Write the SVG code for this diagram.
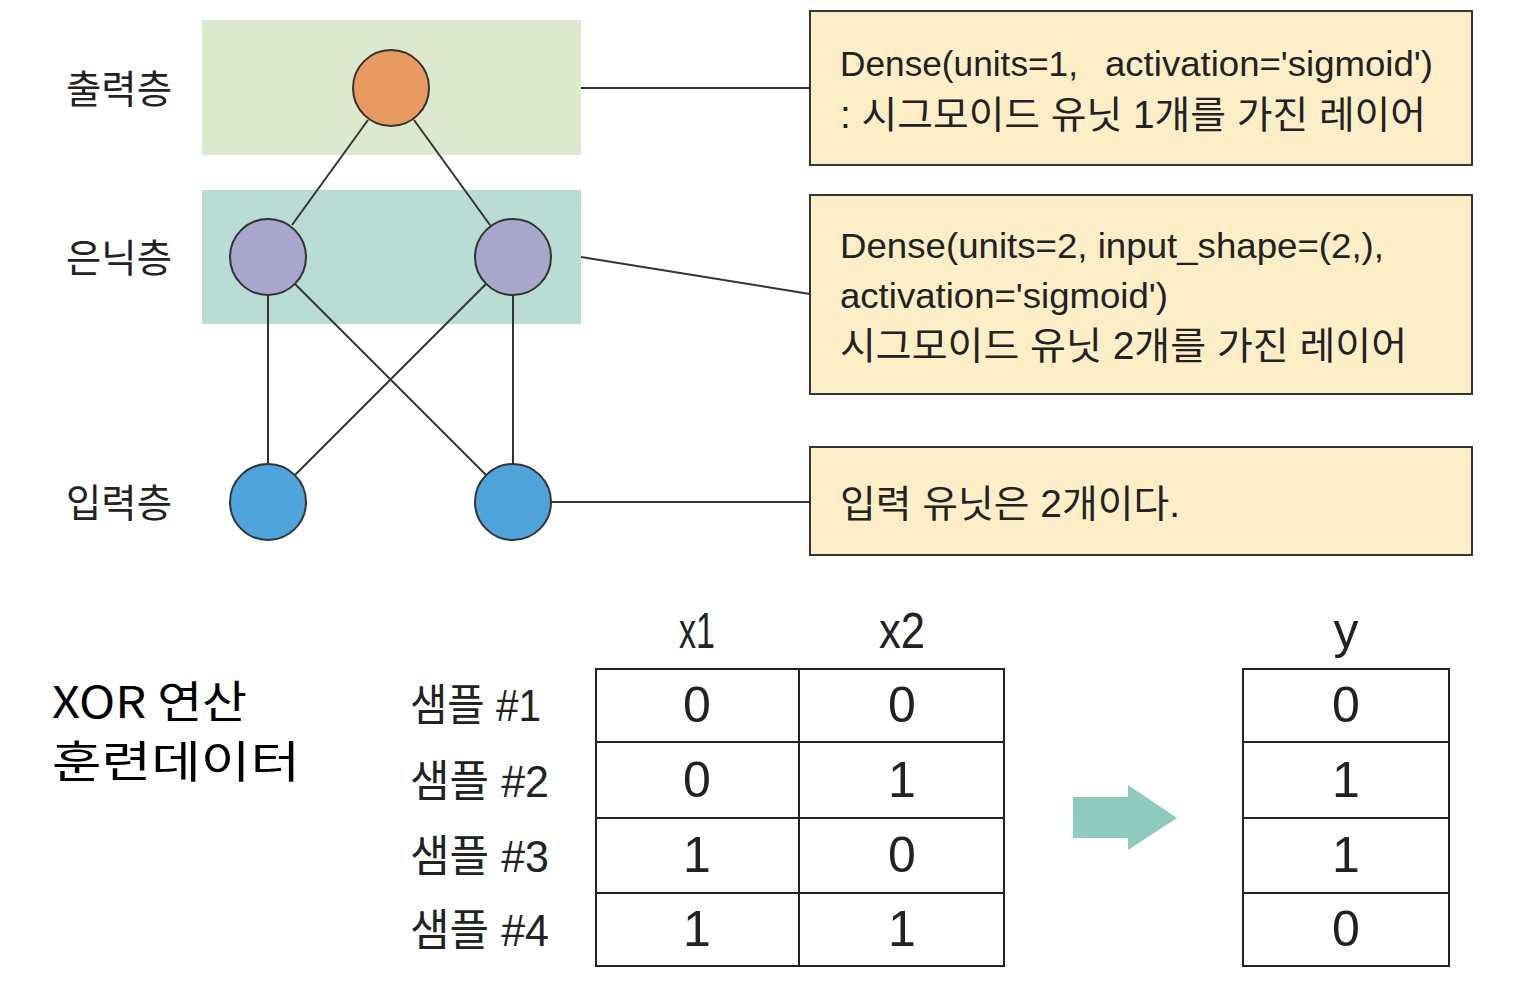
<svg xmlns="http://www.w3.org/2000/svg" width="1526" height="982" viewBox="0 0 1526 982">
<style>
.lbl{font-family:"Liberation Sans","Noto Sans CJK KR",sans-serif;fill:#222;}
.ko{font-family:"Noto Sans CJK KR",sans-serif;fill:#222;}
.box{fill:#fdeec8;stroke:#333;stroke-width:2;}
.node{stroke:#333;stroke-width:2;}
.edge{stroke:#333;stroke-width:2;fill:none;}
.cell{fill:#fff;stroke:#222;stroke-width:2;}
.num{font-family:"Liberation Sans",sans-serif;font-size:50px;fill:#222;text-anchor:middle;}
</style>
<rect x="0" y="0" width="1526" height="982" fill="#fff"/>
<g id="layer-bands">
<rect x="202" y="20" width="379" height="135" fill="#dde9cf"/>
<rect x="202" y="190" width="379" height="134" fill="#b9ddd4"/>
</g>
<g id="layer-labels">
<text class="ko" x="66" y="103" font-size="39" textLength="106" lengthAdjust="spacingAndGlyphs">출력층</text>
<text class="ko" x="66" y="272" font-size="39" textLength="106" lengthAdjust="spacingAndGlyphs">은닉층</text>
<text class="ko" x="66" y="517" font-size="39" textLength="106" lengthAdjust="spacingAndGlyphs">입력층</text>
</g>
<g id="connectors">
<line class="edge" x1="368" y1="120" x2="292" y2="225"/>
<line class="edge" x1="414" y1="120" x2="490" y2="225"/>
<line class="edge" x1="268" y1="295" x2="268" y2="464"/>
<line class="edge" x1="295" y1="284" x2="486" y2="475"/>
<line class="edge" x1="486" y1="284" x2="295" y2="475"/>
<line class="edge" x1="513" y1="295" x2="513" y2="464"/>
<line class="edge" x1="581" y1="88" x2="810" y2="88"/>
<line class="edge" x1="581" y1="257" x2="810" y2="294"/>
<line class="edge" x1="551" y1="502" x2="810" y2="502"/>
</g>
<g id="node-out"><circle class="node" cx="391" cy="88" r="38" fill="#e99a63"/></g>
<g id="node-h1"><circle class="node" cx="268" cy="257" r="38" fill="#aaa7cc"/></g>
<g id="node-h2"><circle class="node" cx="513" cy="257" r="38" fill="#aaa7cc"/></g>
<g id="node-in1"><circle class="node" cx="268" cy="502" r="38" fill="#4fa5db"/></g>
<g id="node-in2"><circle class="node" cx="513" cy="502" r="38" fill="#4fa5db"/></g>
<g id="box-out">
<rect class="box" x="810" y="11" width="662" height="154"/>
<text class="lbl" x="840" y="76" font-size="35"><tspan textLength="238" lengthAdjust="spacingAndGlyphs">Dense(units=1,</tspan><tspan x="1105" textLength="328" lengthAdjust="spacingAndGlyphs">activation='sigmoid')</tspan></text>
<text class="lbl" x="840" y="128" font-size="38" textLength="586" lengthAdjust="spacingAndGlyphs">: 시그모이드 유닛 1개를 가진 레이어</text>
</g>
<g id="box-hidden">
<rect class="box" x="810" y="195" width="662" height="199"/>
<text class="lbl" x="840" y="258" font-size="35" textLength="544" lengthAdjust="spacingAndGlyphs">Dense(units=2, input_shape=(2,),</text>
<text class="lbl" x="840" y="308" font-size="35" textLength="328" lengthAdjust="spacingAndGlyphs">activation='sigmoid')</text>
<text class="lbl" x="840" y="359" font-size="38" textLength="567" lengthAdjust="spacingAndGlyphs">시그모이드 유닛 2개를 가진 레이어</text>
</g>
<g id="box-in">
<rect class="box" x="810" y="447" width="662" height="108"/>
<text class="lbl" x="840" y="517" font-size="38" textLength="340" lengthAdjust="spacingAndGlyphs">입력 유닛은 2개이다.</text>
</g>
<g id="title">
<text class="ko" x="52" y="718" font-size="44" style="fill:#000" textLength="195" lengthAdjust="spacingAndGlyphs">XOR 연산</text>
<text class="ko" x="52" y="778" font-size="44" style="fill:#000" textLength="248" lengthAdjust="spacingAndGlyphs">훈련데이터</text>
</g>
<g id="table-x">
<text class="num" x="697" y="648" textLength="36" lengthAdjust="spacingAndGlyphs">x1</text>
<text class="num" x="902" y="648" textLength="46" lengthAdjust="spacingAndGlyphs">x2</text>
<rect class="cell" x="596" y="669" width="203" height="73"/>
<rect class="cell" x="799" y="669" width="205" height="73"/>
<rect class="cell" x="596" y="742" width="203" height="76"/>
<rect class="cell" x="799" y="742" width="205" height="76"/>
<rect class="cell" x="596" y="818" width="203" height="75"/>
<rect class="cell" x="799" y="818" width="205" height="75"/>
<rect class="cell" x="596" y="893" width="203" height="73"/>
<rect class="cell" x="799" y="893" width="205" height="73"/>
<text class="num" x="697" y="722">0</text><text class="num" x="902" y="722">0</text>
<text class="num" x="697" y="797">0</text><text class="num" x="902" y="797">1</text>
<text class="num" x="697" y="872">1</text><text class="num" x="902" y="872">0</text>
<text class="num" x="697" y="946">1</text><text class="num" x="902" y="946">1</text>
</g>
<g id="sample-labels">
<text class="lbl" x="410" y="721" font-size="44" textLength="131" lengthAdjust="spacingAndGlyphs">샘플 #1</text>
<text class="lbl" x="410" y="797" font-size="44" textLength="139" lengthAdjust="spacingAndGlyphs">샘플 #2</text>
<text class="lbl" x="410" y="872" font-size="44" textLength="139" lengthAdjust="spacingAndGlyphs">샘플 #3</text>
<text class="lbl" x="410" y="946" font-size="44" textLength="139" lengthAdjust="spacingAndGlyphs">샘플 #4</text>
</g>
<g id="arrow">
<polygon points="1073,797 1128,797 1128,785 1177,818 1128,850 1128,838 1073,838" fill="#8ecbbf"/>
</g>
<g id="table-y">
<text class="num" x="1346" y="648">y</text>
<rect class="cell" x="1243" y="669" width="206" height="73"/>
<rect class="cell" x="1243" y="742" width="206" height="76"/>
<rect class="cell" x="1243" y="818" width="206" height="75"/>
<rect class="cell" x="1243" y="893" width="206" height="73"/>
<text class="num" x="1346" y="722">0</text>
<text class="num" x="1346" y="797">1</text>
<text class="num" x="1346" y="872">1</text>
<text class="num" x="1346" y="946">0</text>
</g>
</svg>
